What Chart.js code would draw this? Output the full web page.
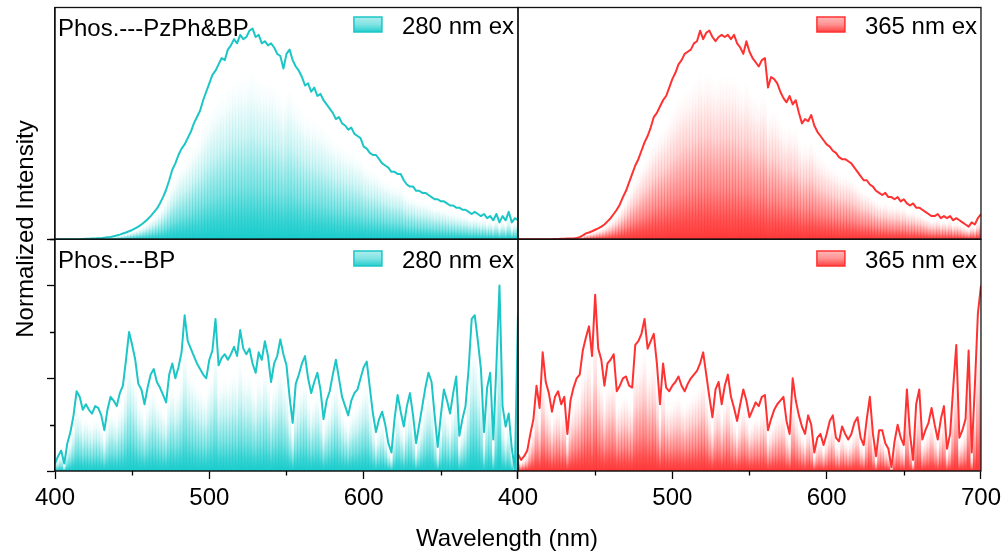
<!DOCTYPE html>
<html>
<head>
<meta charset="utf-8">
<style>
html,body{margin:0;padding:0;background:#ffffff;}
#c{display:block;}
</style>
<script src="https://cdn.jsdelivr.net/npm/chart.js"></script>
</head>
<body>
<canvas id="c" width="1006" height="554"></canvas>
<script>
// ---------- DATA ----------
const wavelengths = [
  400,402,404,406,408,410,412,414,416,418,
  420,422,424,426,428,430,432,434,436,438,
  440,442,444,446,448,450,452,454,456,458,
  460,462,464,466,468,470,472,474,476,478,
  480,482,484,486,488,490,492,494,496,498,
  500,502,504,506,508,510,512,514,516,518,
  520,522,524,526,528,530,532,534,536,538,
  540,542,544,546,548,550,552,554,556,558,
  560,562,564,566,568,570,572,574,576,578,
  580,582,584,586,588,590,592,594,596,598,
  600,602,604,606,608,610,612,614,616,618,
  620,622,624,626,628,630,632,634,636,638,
  640,642,644,646,648,650,652,654,656,658,
  660,662,664,666,668,670,672,674,676,678,
  680,682,684,686,688,690,692,694,696,698,
  700
];
// Phos.---PzPh&BP, 280 nm ex (normalized, %)
const pzphBp280 = [
  0,0,0,0,0,0,0,0,0,0.1,
  0.2,0.2,0.3,0.4,0.5,0.5,0.7,0.9,1.1,1.4,
  1.8,2.2,2.7,3.2,3.8,4.4,5.2,6.0,7.0,8.2,
  9.5,11,12.8,14.5,17,20,23.5,28,33,36,
  40,43,45,48,51,55,58,61,66,70,
  74,78,80,83,86,85,90,92,95,93,
  97,95,96,99,100,96,97,93,94,92,
  93,91,88,87,81,88,90,85,82,80,
  77,73,74,70,72,68,69,66,64,62,
  60,57,58,55,54,52,53,50,49,48,
  44,43,41,40,40,38,36,35,34,32,
  32,31,31,28,26,25,25,23,23,22,
  22,21,20,19,19,18,18,17,16,16,
  15,15,14,14,13,12,13,12,11,12,
  10,11,9,12,8,11,9,13,8,10,
  9
];
// Phos.---PzPh&BP, 365 nm ex
const pzphBp365 = [
  0,0,0,0,0,0,0,0,0,0,
  0,0,0.1,0.1,0.2,0.2,0.3,0.3,0.4,0.6,
  1.0,1.8,2.8,3.2,3.8,4.5,5.2,6.0,7.0,8.5,
  10,12,14,16.5,20,23,27,31,35,38,
  42,46,49,53,58,60,63,66,68,72,
  76,79,83,85,88,89,90,93,94,99,
  95,98,99,96,94,96,97,96,97,95,
  97,93,91,88,94,89,86,84,82,85,
  86,72,77,76,74,70,67,65,68,64,
  66,60,55,57,56,59,54,51,49,47,
  45,44,42,41,39,38,38,37,36,34,
  32,30,28,28,26,25,23,22,21,22,
  20,20,19,20,18,19,17,16,17,15,
  15,14,13,12,11,11,12,10,11,10,
  11,9,10,9,8,7,6,8,7,10,
  12
];
// Phos.---BP, 280 nm ex
const bp280 = [
  4,8,11,4,15,21,30,43,40,33,
  36,33,31,35,34,30,22,33,40,38,
  35,42,46,60,75,68,60,47,44,36,
  45,52,55,48,45,41,37,52,58,50,
  56,64,84,70,66,62,58,55,52,50,
  60,65,82,57,61,63,60,63,67,62,
  76,66,63,66,58,53,64,60,70,62,
  48,58,62,71,63,57,40,26,47,52,
  58,62,50,42,48,53,44,28,38,43,
  52,60,50,40,35,30,38,42,44,50,
  56,59,45,31,21,28,32,25,15,10,
  28,41,32,24,35,42,30,15,25,35,
  45,53,48,30,13,30,44,38,31,42,
  51,19,28,35,55,82,84,70,55,21,
  45,53,17,57,100,35,24,31,12,1,
  85
];
// Phos.---BP, 365 nm ex
const bp365 = [
  9,6,8,11,20,28,46,34,64,48,
  42,32,40,43,36,40,20,38,45,50,
  52,65,72,78,62,95,66,60,46,58,
  60,63,43,46,50,51,46,45,68,70,
  74,82,66,70,74,58,36,58,45,43,
  46,48,51,46,43,47,50,52,54,58,
  64,52,40,29,44,48,36,46,52,40,
  34,27,36,44,38,29,33,37,35,40,
  41,22,28,33,36,38,40,27,20,50,
  38,30,24,20,30,25,10,18,20,14,
  20,27,30,18,16,24,20,17,20,26,
  29,18,14,28,40,20,8,22,22,15,
  12,2,16,25,18,14,44,20,6,36,
  44,17,22,26,34,25,17,28,35,12,
  20,45,68,18,22,28,65,10,45,85,
  100
];
const xTickValues = [400, 500, 600, 700];
const xMinorValues = [450, 550, 650];
const yTopTicks = [0];
const yBottomTicks = [0, 50, 100];
const yBottomMinor = [25, 75, 125];
const panelTitles = ['Phos.---PzPh&BP', '', 'Phos.---BP', ''];
const legendLabels = ['280 nm ex', '365 nm ex', '280 nm ex', '365 nm ex'];
const xTitle = 'Wavelength (nm)';
const yTitle = 'Normalized Intensity';

// ---------- STYLE ----------
const FONT = '"Liberation Sans", Arial, Helvetica, sans-serif';
const CYAN_FILL = '25,204,204';
const CYAN_LINE = '28,198,198';
const RED_FILL = '255,55,55';
const RED_LINE = '255,50,50';
const FRAME = '#111111';

const panels = [
  {x: 'xL', y: 'yT', data: pzphBp280, fill: CYAN_FILL, line: CYAN_LINE},
  {x: 'xR', y: 'yT', data: pzphBp365, fill: RED_FILL, line: RED_LINE},
  {x: 'xL', y: 'yB', data: bp280, fill: CYAN_FILL, line: CYAN_LINE},
  {x: 'xR', y: 'yB', data: bp365, fill: RED_FILL, line: RED_LINE}
];

const toPoints = arr => wavelengths.map((w, i) => ({x: w, y: arr[i]}));

function columnGradient(rgb) {
  return (c) => {
    const chart = c.chart;
    if (c.type !== 'data' || !chart.chartArea) return `rgba(${rgb},0.5)`;
    const ys = chart.scales[c.dataset.yAxisID];
    const v = c.parsed ? c.parsed.y : c.raw.y;
    const base = ys.getPixelForValue(0);
    const top = ys.getPixelForValue(v);
    if (!(base - top > 0.5)) return `rgba(${rgb},1)`;
    const g = chart.ctx.createLinearGradient(0, base, 0, top);
    g.addColorStop(0, `rgba(${rgb},1)`);
    g.addColorStop(0.1, `rgba(${rgb},0.85)`);
    g.addColorStop(0.25, `rgba(${rgb},0.55)`);
    g.addColorStop(0.5, `rgba(${rgb},0.2)`);
    g.addColorStop(0.7, `rgba(${rgb},0.04)`);
    g.addColorStop(0.8, `rgba(${rgb},0)`);
    g.addColorStop(1, `rgba(${rgb},0)`);
    return g;
  };
}

const datasets = [];
panels.forEach(p => {
  datasets.push({
    type: 'bar', data: toPoints(p.data), xAxisID: p.x, yAxisID: p.y,
    backgroundColor: columnGradient(p.fill), borderWidth: 0,
    grouped: false, barPercentage: 1, categoryPercentage: 1, order: 2
  });
});
panels.forEach(p => {
  datasets.push({
    type: 'line', data: toPoints(p.data), xAxisID: p.x, yAxisID: p.y,
    borderColor: `rgb(${p.line})`, borderWidth: 2, pointRadius: 0,
    fill: false, tension: 0, borderJoinStyle: 'round', order: 1
  });
});

function xScale(weight, hideLast) {
  return {
    type: 'linear', axis: 'x', position: 'bottom', stack: 'wl', stackWeight: 1, weight: weight,
    min: 400, max: 700, offset: false,
    afterBuildTicks: s => { s.ticks = xTickValues.map(v => ({value: v})); },
    afterFit: s => { s.height = 40; },
    ticks: {
      autoSkip: false, maxRotation: 0, minRotation: 0, padding: 5, color: '#000',
      font: {family: FONT, size: 24},
      callback: v => (hideLast && v === 700) ? '' : String(v)
    },
    grid: {offset: false, drawOnChartArea: false, drawTicks: true, tickLength: 8,
           tickWidth: 1.3, tickColor: '#000', color: '#000'},
    border: {display: true, color: FRAME, width: 1.3}
  };
}
function yScale(weight, maxV, tickArr) {
  return {
    type: 'linear', axis: 'y', position: 'left', stack: 'int', stackWeight: 1, weight: weight,
    min: 0, max: maxV, beginAtZero: true,
    afterBuildTicks: s => { s.ticks = tickArr.map(v => ({value: v})); },
    afterFit: s => { s.width = 8; },
    ticks: {display: false},
    grid: {drawOnChartArea: false, drawTicks: true, tickLength: 8,
           tickWidth: 1.3, tickColor: '#000', color: '#000'},
    border: {display: true, color: FRAME, width: 1.3}
  };
}

const decor = {
  id: 'decor',
  afterDatasetsDraw(chart) {
    const ctx = chart.ctx;
    const s = chart.scales;
    ctx.save();
    // panel frames
    ctx.strokeStyle = FRAME;
    ctx.lineWidth = 1.3;
    panels.forEach(p => {
      const xs = s[p.x], ys = s[p.y];
      ctx.strokeRect(xs.left, ys.top, xs.right - xs.left, ys.bottom - ys.top);
    });
    // minor ticks
    ctx.strokeStyle = '#000';
    ctx.beginPath();
    ['xL', 'xR'].forEach(id => {
      const xs = s[id];
      xMinorValues.forEach(v => {
        const px = Math.round(xs.getPixelForValue(v)) + 0.5;
        ctx.moveTo(px, xs.top); ctx.lineTo(px, xs.top + 4.5);
      });
    });
    const yb = s.yB;
    yBottomMinor.forEach(v => {
      const py = Math.round(yb.getPixelForValue(v)) + 0.5;
      ctx.moveTo(yb.right, py); ctx.lineTo(yb.right - 5, py);
    });
    ctx.stroke();

    // panel titles and legends
    ctx.font = `24px ${FONT}`;
    ctx.fillStyle = '#000';
    ctx.textBaseline = 'alphabetic';
    panels.forEach((p, i) => {
      const xs = s[p.x], ys = s[p.y];
      const row = p.y === 'yT' ? 0 : 1;
      if (panelTitles[i]) {
        ctx.textAlign = 'left';
        ctx.fillText(panelTitles[i], xs.left + 3, ys.top + (row ? 28.75 : 28));
      }
      const lb = ys.top + (row ? 28.25 : 26);
      ctx.textAlign = 'right';
      const tx = xs.right - 4;
      ctx.fillText(legendLabels[i], tx, lb);
      const tw = ctx.measureText(legendLabels[i]).width;
      const bx = tx - tw - 20 - 28, by = lb - 9 - 7.5;
      const g = ctx.createLinearGradient(0, by, 0, by + 15);
      g.addColorStop(0, `rgba(${p.fill},0.35)`);
      g.addColorStop(0.5, `rgba(${p.fill},0.55)`);
      g.addColorStop(1, `rgba(${p.fill},0.95)`);
      ctx.fillStyle = g;
      ctx.fillRect(bx, by, 28, 15);
      ctx.strokeStyle = `rgb(${p.line})`;
      ctx.lineWidth = 1.5;
      ctx.strokeRect(bx, by, 28, 15);
      ctx.fillStyle = '#000';
    });
    ctx.restore();
  },
  afterDraw(chart) {
    const ctx = chart.ctx;
    ctx.save();
    ctx.font = `24px ${FONT}`;
    ctx.fillStyle = '#000';
    ctx.textAlign = 'center';
    ctx.textBaseline = 'alphabetic';
    ctx.fillText(xTitle, 507, 546);
    ctx.translate(33, 229);
    ctx.rotate(-Math.PI / 2);
    ctx.fillText(yTitle, 0, 0);
    ctx.restore();
  }
};

new Chart(document.getElementById('c'), {
  type: 'bar',
  data: {datasets},
  options: {
    responsive: false,
    animation: false,
    devicePixelRatio: 1,
    events: [],
    layout: {padding: {left: 47, right: 25, top: 7.5, bottom: 43}},
    plugins: {legend: {display: false}, tooltip: {enabled: false}, title: {display: false}},
    scales: {
      xL: xScale(0, true),
      xR: xScale(1, false),
      yT: yScale(1, 110, yTopTicks),
      yB: yScale(0, 125, yBottomTicks)
    }
  },
  plugins: [decor]
});
</script>
</body>
</html>
